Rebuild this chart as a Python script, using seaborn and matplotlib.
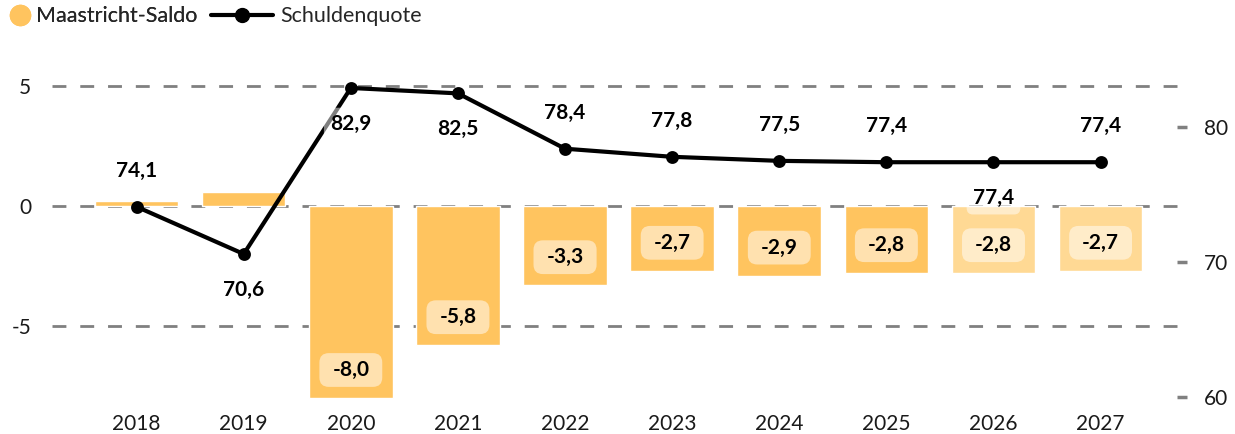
import matplotlib
matplotlib.use("Agg")
import matplotlib.pyplot as plt
from matplotlib.lines import Line2D
from matplotlib.patches import BoxStyle
import seaborn as sns
import pandas as pd
import numpy as np

years = ["2018", "2019", "2020", "2021", "2022", "2023", "2024", "2025", "2026", "2027"]
saldo = [0.2, 0.6, -8.0, -5.8, -3.3, -2.7, -2.9, -2.8, -2.8, -2.7]
quote = [74.1, 70.6, 82.9, 82.5, 78.4, 77.8, 77.5, 77.4, 77.4, 77.4]
saldo_labels = ["", "", "-8,0", "-5,8", "-3,3", "-2,7", "-2,9", "-2,8", "-2,8", "-2,7"]
quote_labels = ["74,1", "70,6", "82,9", "82,5", "78,4", "77,8", "77,5", "77,4", "77,4", "77,4"]
quote_label_below = [False, True, True, True, False, False, False, False, True, False]
forecast = [False] * 8 + [True, True]

left_ticks = [-5, 0, 5]
right_ticks = [60, 70, 80]
legend_labels = ["Maastricht-Saldo", "Schuldenquote"]

BAR = "#FFC45F"
BAR_FC = "#FFD994"
GRID = "#808080"
FONT = "Lato"

sns.set_theme(style="white")
plt.rcParams["font.family"] = [FONT, "DejaVu Sans"]

df = pd.DataFrame({"year": years, "saldo": saldo, "quote": quote})
palette = {y: (BAR_FC if f else BAR) for y, f in zip(years, forecast)}


def wide_round(x0, y0, width, height, mutation_size):
    px = 0.62 * mutation_size
    py = 0.33 * mutation_size
    return BoxStyle.Round(pad=0, rounding_size=0.45 * mutation_size)(
        x0 - px, y0 - py, width + 2 * px, height + 2 * py, 1.0)


fig = plt.figure(figsize=(12.35, 4.34), dpi=100)
ax = fig.add_axes([52 / 1235, 1 - 400.4 / 434, (1182 - 52) / 1235, (400.4 - 71.6) / 434])

sns.barplot(data=df, x="year", y="saldo", hue="year", palette=palette, legend=False,
            width=0.78, saturation=1, ax=ax, zorder=2)

ylo, yhi = -8.1, 5.6
ax.set_ylim(ylo, yhi)
ax.set_xlim(-0.79, 9.76)
ax.set_yticks(left_ticks)
ax.set_yticklabels([str(t) for t in left_ticks])
ax.set_axisbelow(True)
for t in left_ticks:
    ax.axhline(t, color=GRID, lw=2, ls=(0, (5, 5)), zorder=0)
ax.tick_params(axis="y", length=0, pad=15, labelsize=15, labelcolor="#1a1a1a")
ax.tick_params(axis="x", length=0, pad=10, labelsize=15, labelcolor="#1a1a1a")
ax.set_xlabel("")
ax.set_ylabel("")
for s in ax.spines.values():
    s.set_visible(False)

# bar labels
for i, (v, lab) in enumerate(zip(saldo, saldo_labels)):
    if not lab:
        continue
    ax.annotate(lab, xy=(i, v), xytext=(0, 28), textcoords="offset pixels",
                ha="center", va="center", fontsize=15, fontweight="bold", color="black",
                bbox=dict(boxstyle=wide_round, fc="white", ec="none", alpha=0.5),
                zorder=5)

# right axis
ax2 = ax.twinx()
slope, icpt = 1.778, 74.156
ax2.set_ylim(icpt + slope * ylo, icpt + slope * yhi)
sns.pointplot(data=df, x="year", y="quote", color="black", markers="o", markersize=7,
              linewidth=3, ax=ax2, zorder=3)
ax2.set_xlim(-0.79, 9.76)
ax2.set_yticks(right_ticks)
ax2.set_yticklabels([str(t) for t in right_ticks])
ax2.tick_params(axis="y", direction="inout", length=7, width=2.5, color=GRID,
                pad=12, labelsize=15, labelcolor="#1a1a1a")
ax2.set_ylabel("")
ax2.set_xlabel("")
for s in ax2.spines.values():
    s.set_visible(False)

for i, (v, lab, below) in enumerate(zip(quote, quote_labels, quote_label_below)):
    off = -36 if below else 36
    ax2.annotate(lab, xy=(i, v), xytext=(0, off), textcoords="offset pixels",
                 ha="center", va="center", fontsize=15, fontweight="bold", color="black",
                 bbox=dict(boxstyle="round,pad=0.3", fc="white", ec="none", alpha=0.5),
                 zorder=6)

h1 = [Line2D([], [], marker="o", color=BAR, markersize=14.5, lw=0)]
h2 = [Line2D([], [], marker="o", color="black", markersize=10, lw=3)]
leg1 = fig.legend(h1, legend_labels[:1], loc="upper left", bbox_to_anchor=(9 / 1235, 0.986),
                  frameon=False, fontsize=15.5, handlelength=1.0, handletextpad=0.25,
                  borderpad=0, borderaxespad=0)
fig.add_artist(leg1)
fig.legend(h2, legend_labels[1:], loc="upper left", bbox_to_anchor=(211 / 1235, 0.986),
           frameon=False, fontsize=15.5, handlelength=2.9, handletextpad=0.3,
           borderpad=0, borderaxespad=0)

fig.savefig("out.png", dpi=100)
